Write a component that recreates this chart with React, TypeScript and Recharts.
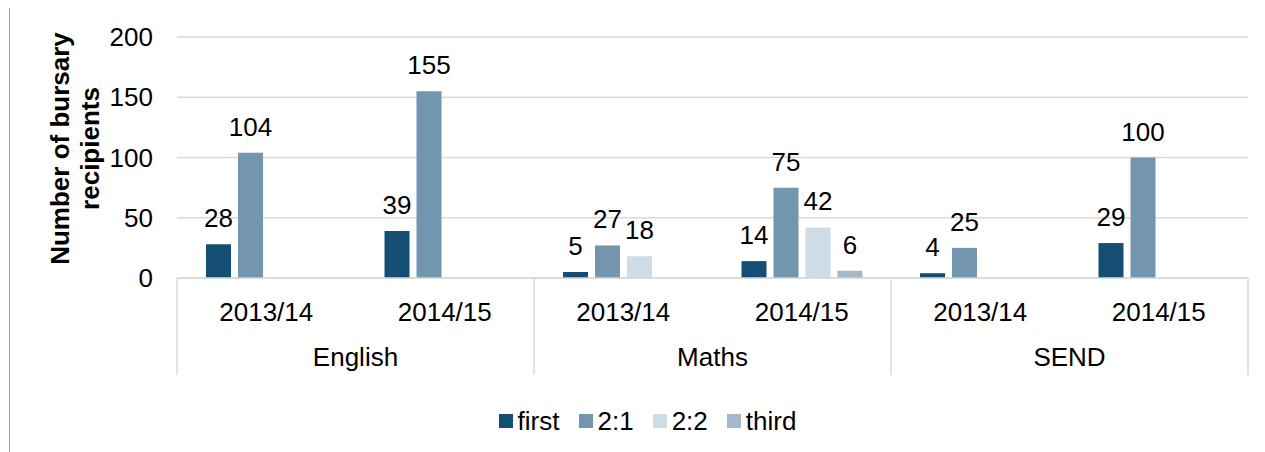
import React from 'react';
import { BarChart, Bar, XAxis, YAxis, CartesianGrid, Legend, LabelList } from 'recharts';

const categories = ['2013/14', '2014/15', '2013/14', '2014/15', '2013/14', '2014/15'];
const subjects = ['English', 'English', 'Maths', 'Maths', 'SEND', 'SEND'];
const firstValues = [28, 39, 5, 14, 4, 29];
const twoOneValues = [104, 155, 27, 75, 25, 100];
const twoTwoValues: (number | null)[] = [null, null, 18, 42, null, null];
const thirdValues: (number | null)[] = [null, null, null, 6, null, null];
const yTicks = [0, 50, 100, 150, 200];
const seriesKeys = ['first', 'twoOne', 'twoTwo', 'third'];
const seriesNames = ['first', '2:1', '2:2', 'third'];
const colors = ['#144f73', '#7395ae', '#d0dce5', '#a3b9c9'];

const data = categories.map((c, i) => ({
  year: c,
  subject: subjects[i],
  first: firstValues[i],
  twoOne: twoOneValues[i],
  twoTwo: twoTwoValues[i],
  third: thirdValues[i],
}));

const FONT = '"Liberation Sans", Arial, sans-serif';
const GRID = '#d9d9d9';

const XTick = (props: any) => {
  const { x, y, payload, index, width, visibleTicksCount } = props;
  const i = payload && typeof payload.index === 'number' ? payload.index : index;
  const band = (typeof width === 'number' ? width : 1071) / (visibleTicksCount || categories.length);
  const h = 97;
  return (
    <g>
      <text x={x} y={y + 43} textAnchor="middle" fontSize={26} fill="#000" fontFamily={FONT}>
        {payload.value}
      </text>
      {i % 2 === 1 && (
        <text x={x - band / 2} y={y + 88} textAnchor="middle" fontSize={26} fill="#000" fontFamily={FONT}>
          {subjects[i]}
        </text>
      )}
      {i === 0 && <line x1={x - band / 2} x2={x - band / 2} y1={y} y2={y + h} stroke={GRID} strokeWidth={1.5} />}
      {i % 2 === 1 && <line x1={x + band / 2} x2={x + band / 2} y1={y} y2={y + h} stroke={GRID} strokeWidth={1.5} />}
    </g>
  );
};

const YLabel = (props: any) => {
  const vb = props.viewBox || { x: 0, y: 29, width: 167, height: 241 };
  const cx = vb.x + 73.5;
  const cy = vb.y + vb.height / 2 - 9;
  return (
    <g transform={`translate(${cx},${cy}) rotate(-90)`}>
      <text x={0} y={-15} textAnchor="middle" fontSize={26} fontWeight="bold" fill="#000" fontFamily={FONT}>
        Number of bursary
      </text>
      <text x={0} y={15} textAnchor="middle" fontSize={26} fontWeight="bold" fill="#000" fontFamily={FONT}>
        recipients
      </text>
    </g>
  );
};

const LegendContent = () => (
  <div
    style={{
      display: 'flex',
      justifyContent: 'center',
      alignItems: 'center',
      height: 30,
      paddingLeft: 20,
      fontFamily: FONT,
      fontSize: 26,
      lineHeight: '30px',
      color: '#000',
    }}
  >
    {seriesNames.map((n, i) => (
      <div key={n} style={{ display: 'flex', alignItems: 'center', marginRight: i < seriesNames.length - 1 ? 19 : 0 }}>
        <span style={{ display: 'inline-block', width: 14, height: 14, background: colors[i], marginRight: 5 }} />
        <span>{n}</span>
      </div>
    ))}
  </div>
);

export default function App() {
  return (
    <div
      style={{
        position: 'relative',
        marginTop: -1,
        marginLeft: 1,
        width: 1255,
        height: 444,
        borderLeft: '1px solid #a0a0a0',
        borderTop: '1px solid #a0a0a0',
        fontFamily: FONT,
        background: '#fff',
      }}
    >
      <style>{`body{overflow:hidden}`}</style>
      <BarChart
        width={1255}
        height={444}
        data={data}
        margin={{ top: 29, right: 17, left: 0, bottom: 47 }}
        barGap={7}
        barSize={25}
      >
        <CartesianGrid vertical={false} stroke={GRID} strokeWidth={1.5} />
        <XAxis
          dataKey="year"
          interval={0}
          height={97}
          tickSize={0}
          tickMargin={0}
          tickLine={false}
          axisLine={{ stroke: GRID, strokeWidth: 1.5 }}
          tick={<XTick />}
        />
        <YAxis
          domain={[0, 200]}
          ticks={yTicks}
          width={167}
          tickSize={0}
          tickMargin={24}
          axisLine={false}
          tickLine={false}
          tick={{ fontSize: 26, fill: '#000', fontFamily: FONT }}
          label={{ content: <YLabel /> } as any}
        />
        <Legend
          verticalAlign="bottom"
          content={<LegendContent />}
          wrapperStyle={{ left: 0, width: 1255, bottom: 16 }}
        />
        {seriesKeys.map((k, i) => (
          <Bar key={k} dataKey={k} name={seriesNames[i]} fill={colors[i]} isAnimationActive={false}>
            <LabelList dataKey={k} position="top" offset={17} fontSize={26} fill="#000" fontFamily={FONT} />
          </Bar>
        ))}
      </BarChart>
    </div>
  );
}
